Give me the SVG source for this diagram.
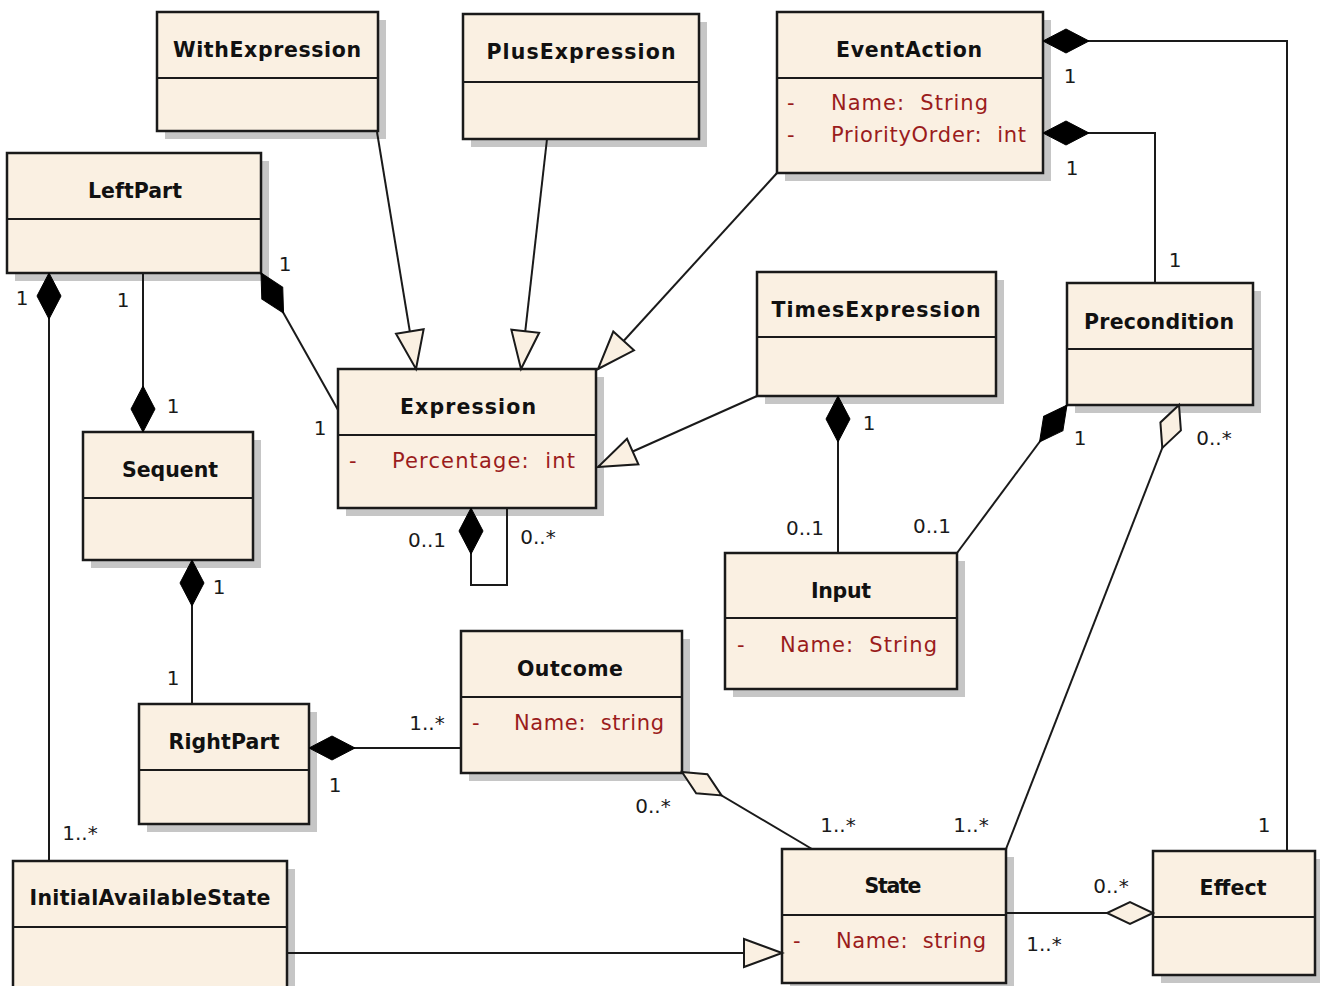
<svg xmlns="http://www.w3.org/2000/svg" width="1320" height="986" viewBox="0 0 1320 986">
  <style>
    .shadow { fill: #c6c6c6; }
    .box { fill: #faf0e2; stroke: #1a1a1a; stroke-width: 2.5; }
    .div { stroke: #1a1a1a; stroke-width: 2; }
    .title { font-family: "DejaVu Sans", "Liberation Sans", sans-serif; font-weight: bold; font-size: 20.5px; fill: #111; text-anchor: middle; }
    .attr { font-family: "DejaVu Sans", "Liberation Sans", sans-serif; font-size: 21px; fill: #9a1c1c; }
    .mult { font-family: "DejaVu Sans", "Liberation Sans", sans-serif; font-size: 20px; fill: #1a1a1a; text-anchor: middle; }
    .conn { fill: none; stroke: #1a1a1a; stroke-width: 2; }
  </style>
  <defs>
    <!-- composition: filled diamond at the owning end -->
    <marker id="comp" markerUnits="userSpaceOnUse" markerWidth="50" markerHeight="30" refX="0" refY="0" orient="auto" overflow="visible">
      <path d="M0,0 L23,-12 L46,0 L23,12 Z" fill="#000" stroke="#000" stroke-width="1"/>
    </marker>
    <!-- aggregation: hollow diamond at the owning end -->
    <marker id="agg" markerUnits="userSpaceOnUse" markerWidth="50" markerHeight="30" refX="0" refY="0" orient="auto" overflow="visible">
      <path d="M0,0 L23,-11 L46,0 L23,11 Z" fill="#faf0e2" stroke="#1a1a1a" stroke-width="2"/>
    </marker>
    <!-- generalization: hollow triangle at the parent end -->
    <marker id="gen" markerUnits="userSpaceOnUse" markerWidth="50" markerHeight="40" refX="0" refY="0" orient="auto" overflow="visible">
      <path d="M0,0 L-38,-14 L-38,14 Z" fill="#faf0e2" stroke="#1a1a1a" stroke-width="2"/>
    </marker>
  </defs>
  <rect width="1320" height="986" fill="#ffffff"/>

  <!-- classes -->
  <g id="WithExpression">
    <rect class="shadow" x="165" y="20" width="221" height="119"/>
    <rect class="box" x="157" y="12" width="221" height="119"/>
    <line class="div" x1="157" y1="78" x2="378" y2="78"/>
    <text class="title" x="267" y="57" textLength="188" lengthAdjust="spacing">WithExpression</text>
  </g>
  <g id="PlusExpression">
    <rect class="shadow" x="471" y="22" width="236" height="125"/>
    <rect class="box" x="463" y="14" width="236" height="125"/>
    <line class="div" x1="463" y1="82" x2="699" y2="82"/>
    <text class="title" x="581" y="59" textLength="189" lengthAdjust="spacing">PlusExpression</text>
  </g>
  <g id="EventAction">
    <rect class="shadow" x="785" y="20" width="266" height="161"/>
    <rect class="box" x="777" y="12" width="266" height="161"/>
    <line class="div" x1="777" y1="78" x2="1043" y2="78"/>
    <text class="title" x="909" y="57" textLength="146" lengthAdjust="spacing">EventAction</text>
    <text class="attr" x="787" y="110">-</text>
    <text class="attr" x="831" y="110" textLength="157" lengthAdjust="spacing" xml:space="preserve">Name:  String</text>
    <text class="attr" x="787" y="142">-</text>
    <text class="attr" x="831" y="142" textLength="195" lengthAdjust="spacing" xml:space="preserve">PriorityOrder:  int</text>
  </g>
  <g id="LeftPart">
    <rect class="shadow" x="15" y="161" width="254" height="120"/>
    <rect class="box" x="7" y="153" width="254" height="120"/>
    <line class="div" x1="7" y1="219" x2="261" y2="219"/>
    <text class="title" x="135" y="198" textLength="94" lengthAdjust="spacing">LeftPart</text>
  </g>
  <g id="Expression">
    <rect class="shadow" x="346" y="377" width="258" height="139"/>
    <rect class="box" x="338" y="369" width="258" height="139"/>
    <line class="div" x1="338" y1="435" x2="596" y2="435"/>
    <text class="title" x="468" y="414" textLength="136" lengthAdjust="spacing">Expression</text>
    <text class="attr" x="349" y="468">-</text>
    <text class="attr" x="392" y="468" textLength="183" lengthAdjust="spacing" xml:space="preserve">Percentage:  int</text>
  </g>
  <g id="TimesExpression">
    <rect class="shadow" x="765" y="280" width="239" height="124"/>
    <rect class="box" x="757" y="272" width="239" height="124"/>
    <line class="div" x1="757" y1="337" x2="996" y2="337"/>
    <text class="title" x="876" y="317" textLength="209" lengthAdjust="spacing">TimesExpression</text>
  </g>
  <g id="Precondition">
    <rect class="shadow" x="1075" y="291" width="186" height="122"/>
    <rect class="box" x="1067" y="283" width="186" height="122"/>
    <line class="div" x1="1067" y1="349" x2="1253" y2="349"/>
    <text class="title" x="1159" y="329" textLength="150" lengthAdjust="spacing">Precondition</text>
  </g>
  <g id="Sequent">
    <rect class="shadow" x="91" y="440" width="170" height="128"/>
    <rect class="box" x="83" y="432" width="170" height="128"/>
    <line class="div" x1="83" y1="498" x2="253" y2="498"/>
    <text class="title" x="170" y="477" textLength="96" lengthAdjust="spacing">Sequent</text>
  </g>
  <g id="Input">
    <rect class="shadow" x="733" y="561" width="232" height="136"/>
    <rect class="box" x="725" y="553" width="232" height="136"/>
    <line class="div" x1="725" y1="618" x2="957" y2="618"/>
    <text class="title" x="841" y="598" textLength="60" lengthAdjust="spacing">Input</text>
    <text class="attr" x="737" y="652">-</text>
    <text class="attr" x="780" y="652" textLength="157" lengthAdjust="spacing" xml:space="preserve">Name:  String</text>
  </g>
  <g id="Outcome">
    <rect class="shadow" x="469" y="639" width="221" height="142"/>
    <rect class="box" x="461" y="631" width="221" height="142"/>
    <line class="div" x1="461" y1="697" x2="682" y2="697"/>
    <text class="title" x="570" y="676" textLength="106" lengthAdjust="spacing">Outcome</text>
    <text class="attr" x="472" y="730">-</text>
    <text class="attr" x="514" y="730" textLength="150" lengthAdjust="spacing" xml:space="preserve">Name:  string</text>
  </g>
  <g id="RightPart">
    <rect class="shadow" x="147" y="712" width="170" height="120"/>
    <rect class="box" x="139" y="704" width="170" height="120"/>
    <line class="div" x1="139" y1="770" x2="309" y2="770"/>
    <text class="title" x="224" y="749" textLength="111" lengthAdjust="spacing">RightPart</text>
  </g>
  <g id="State">
    <rect class="shadow" x="790" y="857" width="224" height="134"/>
    <rect class="box" x="782" y="849" width="224" height="134"/>
    <line class="div" x1="782" y1="915" x2="1006" y2="915"/>
    <text class="title" x="893" y="893" textLength="57" lengthAdjust="spacing">State</text>
    <text class="attr" x="793" y="948">-</text>
    <text class="attr" x="836" y="948" textLength="150" lengthAdjust="spacing" xml:space="preserve">Name:  string</text>
  </g>
  <g id="Effect">
    <rect class="shadow" x="1161" y="859" width="162" height="124"/>
    <rect class="box" x="1153" y="851" width="162" height="124"/>
    <line class="div" x1="1153" y1="917" x2="1315" y2="917"/>
    <text class="title" x="1233" y="895" textLength="67" lengthAdjust="spacing">Effect</text>
  </g>
  <g id="InitialAvailableState">
    <rect class="shadow" x="21" y="869" width="274" height="140"/>
    <rect class="box" x="13" y="861" width="274" height="140"/>
    <line class="div" x1="13" y1="927" x2="287" y2="927"/>
    <text class="title" x="150" y="905" textLength="241" lengthAdjust="spacing">InitialAvailableState</text>
  </g>

  <!-- associations, compositions and generalizations -->
  <g id="connectors">
    <path class="conn" d="M377,132 L416,369" marker-end="url(#gen)"/>
    <path class="conn" d="M547,139 L521,369" marker-end="url(#gen)"/>
    <path class="conn" d="M777,173 L598,369" marker-end="url(#gen)"/>
    <path class="conn" d="M757,396 L598,467" marker-end="url(#gen)"/>
    <path class="conn" d="M287,953 L782,953" marker-end="url(#gen)"/>

    <path class="conn" d="M261,273 L338,410" marker-start="url(#comp)"/>
    <path class="conn" d="M143,432 L143,273" marker-start="url(#comp)"/>
    <path class="conn" d="M49,273 L49,861" marker-start="url(#comp)"/>
    <path class="conn" d="M471,508 L471,585 L507,585 L507,508" marker-start="url(#comp)"/>
    <path class="conn" d="M192,560 L192,704" marker-start="url(#comp)"/>
    <path class="conn" d="M309,748 L461,748" marker-start="url(#comp)"/>
    <path class="conn" d="M838,396 L838,553" marker-start="url(#comp)"/>
    <path class="conn" d="M1067,405 L957,553" marker-start="url(#comp)"/>
    <path class="conn" d="M1043,133 L1155,133 L1155,283" marker-start="url(#comp)"/>
    <path class="conn" d="M1043,41 L1287,41 L1287,851" marker-start="url(#comp)"/>

    <path class="conn" d="M1179,405 L1006,849" marker-start="url(#agg)"/>
    <path class="conn" d="M682,772 L812,849" marker-start="url(#agg)"/>
    <path class="conn" d="M1153,913 L1006,913" marker-start="url(#agg)"/>
  </g>

  <!-- multiplicities -->
  <g id="multiplicities">
    <text class="mult" x="285" y="271">1</text>
    <text class="mult" x="320" y="435">1</text>
    <text class="mult" x="22" y="305">1</text>
    <text class="mult" x="123" y="307">1</text>
    <text class="mult" x="173" y="413">1</text>
    <text class="mult" x="80" y="840">1..*</text>
    <text class="mult" x="427" y="547">0..1</text>
    <text class="mult" x="538" y="544">0..*</text>
    <text class="mult" x="219" y="594">1</text>
    <text class="mult" x="173" y="685">1</text>
    <text class="mult" x="427" y="730">1..*</text>
    <text class="mult" x="335" y="792">1</text>
    <text class="mult" x="869" y="430">1</text>
    <text class="mult" x="805" y="535">0..1</text>
    <text class="mult" x="1080" y="445">1</text>
    <text class="mult" x="932" y="533">0..1</text>
    <text class="mult" x="1214" y="445">0..*</text>
    <text class="mult" x="971" y="832">1..*</text>
    <text class="mult" x="1070" y="83">1</text>
    <text class="mult" x="1072" y="175">1</text>
    <text class="mult" x="1175" y="267">1</text>
    <text class="mult" x="1264" y="832">1</text>
    <text class="mult" x="653" y="813">0..*</text>
    <text class="mult" x="838" y="832">1..*</text>
    <text class="mult" x="1111" y="893">0..*</text>
    <text class="mult" x="1044" y="951">1..*</text>
  </g>
</svg>
